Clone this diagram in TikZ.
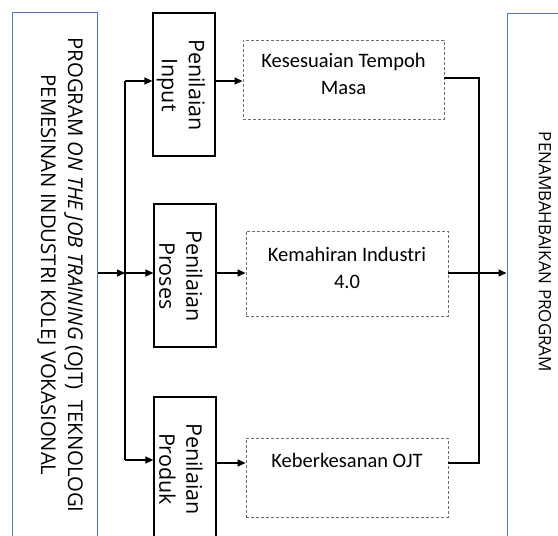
\documentclass[tikz,border=0pt]{standalone}
\usepackage{fontspec}
\setmainfont{Open Sans}
\newfontfamily\calfont{Carlito}
\usetikzlibrary{arrows.meta}
\definecolor{sideblue}{RGB}{84,120,190}
\definecolor{dashgray}{RGB}{110,110,110}
\tikzset{
  sidebox/.style={draw=sideblue, line width=1pt, inner sep=0pt},
  solidbox/.style={draw=black, line width=1.2pt, inner sep=0pt, minimum width=62pt, minimum height=143pt},
  dashbox/.style={draw=dashgray, line width=0.9pt, dash pattern=on 3pt off 2pt, inner sep=0pt},
  vlabel/.style={rotate=-90, align=center, inner sep=0pt},
  slabel/.style={vlabel, font=\fontsize{21.5}{27}\selectfont},
  dlabel/.style={align=center, inner sep=0pt, font=\calfont\fontsize{20.5}{27}\selectfont},
  conn/.style={line width=1.4pt, black},
  arr/.style={conn, -{Triangle[length=8pt,width=7pt]}}
}
\begin{document}
\begin{tikzpicture}[x=1pt,y=-1pt]
\useasboundingbox (0,0) rectangle (558,536);
\fill[white] (0,0) rectangle (558,536);
\clip (0,0) rectangle (558,536);
% side boxes
\node[sidebox, minimum width=85pt, minimum height=528pt] (L) at (54.5,276) {};
\node[vlabel, font=\fontsize{20.3}{27}\selectfont] (Ltext) at (60,275) {PROGRAM \textit{ON THE JOB TRAINING} (OJT)\ \ TEKNOLOGI\\PEMESINAN INDUSTRI KOLEJ VOKASIONAL};
\node[sidebox, minimum width=113pt, minimum height=527pt] (R) at (563.5,276.5) {};
\node[vlabel, font=\fontsize{17}{27}\selectfont] (Rtext) at (545,252) {PENAMBAHBAIKAN PROGRAM};
% solid boxes
\node[solidbox] (inp) at (184,84.5) {};
\node[slabel] (inpt) at (181,85) {Penilaian\\Input};
\node[solidbox] (pro) at (185,275.5) {};
\node[slabel] (prot) at (181,276) {Penilaian\\Proses};
\node[solidbox] (prd) at (185,468.5) {};
\node[slabel] (prdt) at (181,469) {Penilaian\\Produk};
% dashed boxes
\node[dashbox, minimum width=201pt, minimum height=79pt] (d1) at (343.5,79.5) {};
\node[dlabel] (d1t) at (343.5,74) {Kesesuaian Tempoh\\Masa};
\node[dashbox, minimum width=202pt, minimum height=85pt] (d2) at (347,273.5) {};
\node[dlabel] (d2t) at (347,267.5) {Kemahiran Industri\\4.0};
\node[dashbox, minimum width=202pt, minimum height=79pt] (d3) at (347,477.5) {};
\node[dlabel, anchor=base] (d3t) at (347,467) {Keberkesanan OJT};
% bus coordinates
\coordinate (busT) at (125,81);
\coordinate (busM) at (125,273);
\coordinate (busB) at (125,460);
\coordinate (rT) at (479,78);
\coordinate (rB) at (479,463);
\coordinate (rM) at (479,273);
% left connectors
\draw[arr] (L.east |- busM) -- (busM);
\draw[conn] (busT) -- (busB);
\draw[arr] (busT) -- (inp.west |- busT);
\draw[arr] (busM) -- (pro.west |- busM);
\draw[arr] (busB) -- (prd.west |- busB);
% middle connectors
\draw[arr] (inp.east |- busT) -- (d1.west |- busT);
\draw[arr] (pro.east |- busM) -- (d2.west |- busM);
\draw[arr] (prd.east |- 0,463) -- (d3.west |- 0,463);
% right connectors
\draw[conn] (d1.east |- rT) -- (rT) -- (rB) -- (d3.east |- rB);
\draw[arr] (d2.east |- rM) -- (R.west |- rM);
\end{tikzpicture}
\end{document}
